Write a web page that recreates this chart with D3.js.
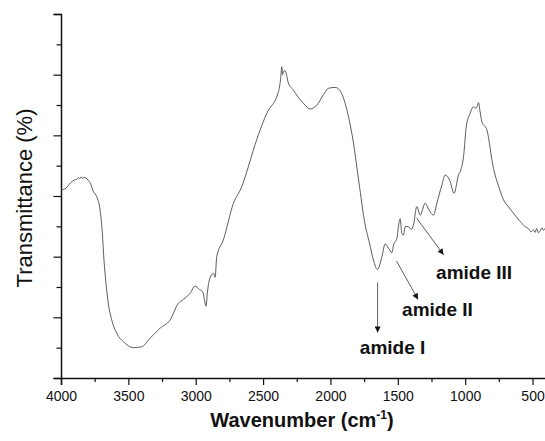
<!DOCTYPE html>
<html>
<head>
<meta charset="utf-8">
<script src="https://cdn.jsdelivr.net/npm/d3@7"></script>
<style>
  body { margin: 0; background: #fff; }
  svg { display: block; font-family: "Liberation Sans", Arial, sans-serif; }
</style>
</head>
<body>
<svg id="chart" width="545" height="441"></svg>
<script>
// spectrum (wavenumber in cm-1, transmittance in arbitrary units)
const wavenumbers = [
  4000, 3963, 3930, 3900, 3880, 3870, 3860, 3850, 3840, 3830, 3815, 3800, 3780, 3760, 3735,
  3710, 3693, 3681, 3666, 3649, 3623, 3586, 3537, 3463, 3401, 3339, 3265, 3191, 3129, 3092,
  3042, 3005, 2973, 2948, 2923, 2914, 2899, 2869, 2856, 2844, 2795, 2720, 2658, 2609, 2572,
  2472, 2386, 2370, 2361, 2355, 2349, 2337, 2312, 2275, 2240, 2201, 2151, 2101, 2050, 2015,
  1965, 1928, 1878, 1829, 1790, 1742, 1710, 1681, 1651, 1618, 1594, 1569, 1544, 1532, 1507,
  1490, 1483, 1470, 1458, 1445, 1421, 1400, 1384, 1359, 1334, 1297, 1270, 1235, 1210, 1173,
  1148, 1116, 1082, 1050, 1032, 1012, 992, 963, 938, 918, 901, 890, 876, 839, 790,
  750, 715, 680, 641, 600, 554, 530, 510, 493, 480, 470, 455, 443, 430, 420, 406
];
const transmittance = [
  62.0, 62.6, 64.3, 65.3, 65.6, 66.1, 65.7, 66.3, 65.8, 66.2, 65.9, 65.3, 64.0, 61.5, 59.8,
  55.4, 47.7, 38.9, 31.2, 24.6, 19.1, 14.7, 12.0, 10.0, 10.3, 13.1, 16.4, 19.1, 24.6, 25.9,
  27.9, 30.3, 29.2, 28.4, 23.7, 27.9, 32.3, 34.5, 33.2, 40.0, 45.5, 57.6, 63.1, 69.7, 75.2,
  87.3, 94.4, 98.5, 102.6, 100.0, 101.0, 101.3, 97.2, 94.9, 92.6, 90.6, 88.7, 90.0, 93.5, 95.5,
  95.8, 94.7, 88.4, 77.4, 65.0, 50.4, 44.5, 38.9, 35.8, 40.0, 44.2, 42.8, 41.3, 43.8, 46.1,
  51.5, 52.5, 47.7, 47.1, 49.9, 49.9, 49.0, 50.4, 56.5, 53.7, 57.6, 55.5, 53.7, 57.6, 63.6,
  66.9, 65.3, 60.9, 66.9, 68.6, 73.0, 82.8, 87.3, 89.4, 88.9, 90.8, 88.0, 84.5, 81.8, 69.1,
  63.0, 58.7, 56.5, 54.3, 52.0, 49.9, 49.2, 48.2, 48.8, 48.0, 49.3, 47.9, 48.6, 49.5, 48.7, 49.4
];

const xTickValues = [4000, 3500, 3000, 2500, 2000, 1500, 1000, 500];
const xMinorValues = [3750, 3250, 2750, 2250, 1750, 1250, 750];
const yTickValues = [0, 20, 40, 60, 80, 100, 120];
const yMinorValues = [10, 30, 50, 70, 90, 110];

// annotation labels: text, wavenumber / value of arrow tail and head, text anchor point
const amideLabels = ["amide I", "amide II", "amide III"];
const arrowFrom = [[1650, 31.5], [1510, 38.6], [1360, 52.7]];
const arrowTo = [[1650, 15.0], [1350, 25.9], [1160, 40.6]];
const labelAt = [[1782, 7.8], [1468, 20.4], [1216, 32.7]];

const data = wavenumbers.map((w, i) => ({ w: w, t: transmittance[i] }));

const SVGElement = d3.select("#chart");

const x = d3.scaleLinear().domain([4000, 400]).range([61, 546]);
const y = d3.scaleLinear().domain([0, 120]).range([378, 14]);

SVGElement.append("defs")
  .append("marker")
  .attr("id", "arrow-head")
  .attr("viewBox", "0 -5 10 10")
  .attr("refX", 10)
  .attr("refY", 0)
  .attr("markerWidth", 9)
  .attr("markerHeight", 6)
  .attr("markerUnits", "userSpaceOnUse")
  .attr("orient", "auto")
  .append("path")
  .attr("d", "M0,-5L10,0L0,5Z")
  .attr("fill", "#111");

// x axis: labelled major ticks and short minor ticks
const xAxisGroup = SVGElement.append("g")
  .attr("transform", "translate(0,378)")
  .call(d3.axisBottom(x).tickValues(xTickValues).tickSize(7).tickPadding(6).tickFormat(d3.format("d")));

SVGElement.append("g")
  .attr("transform", "translate(0,378)")
  .call(d3.axisBottom(x).tickValues(xMinorValues).tickSize(4).tickFormat(""))
  .select(".domain").remove();

xAxisGroup.selectAll("text")
  .style("font-size", "14px")
  .style("fill", "#111");

// y axis has no labels
SVGElement.append("g")
  .attr("transform", "translate(61,0)")
  .call(d3.axisLeft(y).tickValues(yTickValues).tickSize(7.5).tickFormat(""));

SVGElement.append("g")
  .attr("transform", "translate(61,0)")
  .call(d3.axisLeft(y).tickValues(yMinorValues).tickSize(4.5).tickFormat(""))
  .select(".domain").remove();

SVGElement.selectAll(".domain")
  .attr("stroke", "#111")
  .attr("stroke-width", 1.5);

SVGElement.selectAll(".tick line")
  .attr("stroke", "#111")
  .attr("stroke-width", 1.2);

const line = d3.line()
  .x((d) => x(d.w))
  .y((d) => y(d.t))
  .curve(d3.curveMonotoneX);

SVGElement.append("path")
  .datum(data)
  .attr("class", "spectrum")
  .attr("fill", "none")
  .attr("stroke", "#333")
  .attr("stroke-width", 0.8)
  .attr("stroke-linejoin", "round")
  .attr("d", line);

const arrows = SVGElement.selectAll(".amide-arrow")
  .data(amideLabels)
  .enter()
  .append("line")
  .attr("class", "amide-arrow")
  .attr("x1", (d, i) => x(arrowFrom[i][0]))
  .attr("y1", (d, i) => y(arrowFrom[i][1]))
  .attr("x2", (d, i) => x(arrowTo[i][0]))
  .attr("y2", (d, i) => y(arrowTo[i][1]))
  .attr("stroke", "#333")
  .attr("stroke-width", 0.8)
  .attr("marker-end", "url(#arrow-head)");

const labels = SVGElement.selectAll(".amide-label")
  .data(amideLabels)
  .enter()
  .append("text")
  .attr("class", "amide-label")
  .attr("x", (d, i) => x(labelAt[i][0]))
  .attr("y", (d, i) => y(labelAt[i][1]))
  .text((d) => d)
  .style("font-size", "19px")
  .style("font-weight", "bold")
  .style("fill", "#111");

// axis titles
SVGElement.append("text")
  .attr("transform", "translate(32,198) rotate(-90)")
  .attr("text-anchor", "middle")
  .style("font-size", "22px")
  .style("fill", "#111")
  .text("Transmittance (%)");

const xTitle = SVGElement.append("text")
  .attr("x", 302)
  .attr("y", 427)
  .attr("text-anchor", "middle")
  .style("font-size", "20px")
  .style("font-weight", "bold")
  .style("fill", "#111");

xTitle.append("tspan").text("Wavenumber (cm");
xTitle.append("tspan")
  .attr("dy", -8)
  .style("font-size", "12px")
  .text("-1");
xTitle.append("tspan")
  .attr("dy", 8)
  .text(")");
</script>
</body>
</html>
